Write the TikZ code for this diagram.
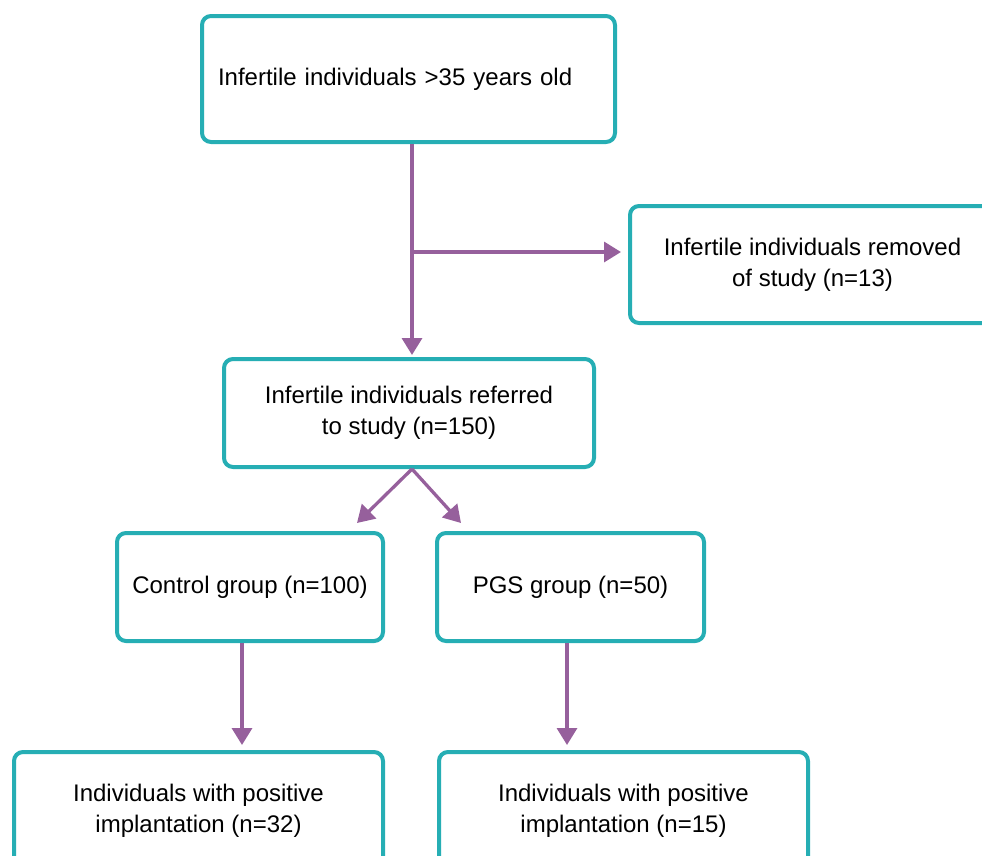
\documentclass[tikz,border=0pt]{standalone}
\usepackage{fontspec}
\setmainfont{Liberation Sans}
\usetikzlibrary{arrows.meta, positioning}
\definecolor{boxteal}{RGB}{38,174,180}
\definecolor{flowpurple}{RGB}{150,96,156}
\tikzset{
  stagebox/.style = {draw=boxteal, line width=4pt, rounded corners=9pt, fill=white,
                     inner sep=0, align=center, font=\fontsize{24}{31}\selectfont},
  flow/.style = {draw=flowpurple, line width=3.3pt, -{Triangle[width=20pt,length=17pt]}},
}

\begin{document}
\begin{tikzpicture}[x=1pt, y=-1pt]
  \clip (0,0) rectangle (982,855);
  % Flow of the form
  % start --> referred --> two groups --> outcome of each group
  \node (start) [stagebox, minimum width=413pt, minimum height=126pt, text width=381pt, align=left]
    at (408.5,79) {Infertile individuals >35 years old};
  \node (removed) [stagebox, minimum width=365pt, minimum height=117pt]
    at (812.5,264.5) {Infertile individuals removed\\of study (n=13)};
  \node (referred) [stagebox, minimum width=370pt, minimum height=108pt]
    at (409,413) {Infertile individuals referred\\ to study (n=150)};
  \node (control) [stagebox, minimum width=266pt, minimum height=108pt]
    at (250,587) {Control group (n=100)};
  \node (pgs) [stagebox, minimum width=267pt, minimum height=108pt]
    at (570.5,587) {PGS group (n=50)};
  \node (lowL) [stagebox, minimum width=369pt, minimum height=118pt]
    at (198.5,811) {Individuals with positive\\implantation (n=32)};
  \node (lowR) [stagebox, minimum width=369pt, minimum height=118pt]
    at (623.5,811) {Individuals with positive\\implantation (n=15)};

  \coordinate (trunk) at (412,0);
  \coordinate (split) at (412,252);
  \coordinate (ctlTip) at (357,523);
  \coordinate (pgsTip) at (461,523);
  \coordinate (ctlx) at (242,0);
  \coordinate (pgsx) at (567,0);

  \draw [flow, shorten >=2pt] (start.south -| trunk) -- (referred.north -| trunk);
  \draw [flow, shorten >=7pt] (split) -- (split -| removed.west);
  \draw [flow] (referred.south -| trunk) -- (ctlTip);
  \draw [flow] (referred.south -| trunk) -- (pgsTip);
  \foreach \G/\L/\X in {control/lowL/ctlx, pgs/lowR/pgsx}{
    \draw [flow, shorten >=5pt] (\G.south -| \X) -- (\L.north -| \X);
  }
\end{tikzpicture}
\end{document}
